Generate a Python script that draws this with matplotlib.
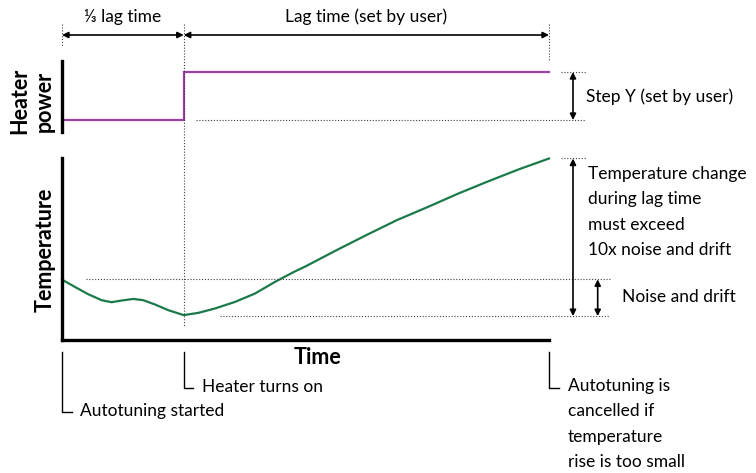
import matplotlib.pyplot as plt
from matplotlib.lines import Line2D
from matplotlib.transforms import blended_transform_factory

plt.rcParams['font.family'] = ['Lato', 'DejaVu Sans']

# time in units of 1/3 lag time: heater turns on at 1, lag time ends at 4
heater_time = [0, 1, 1, 4]
heater_power = [0, 0, 1, 1]

temp_time = [0, 0.107, 0.216, 0.326, 0.408, 0.49, 0.586, 0.668, 0.764, 0.873,
             1.0, 1.12, 1.257, 1.421, 1.585, 1.75, 1.914, 2.0, 2.25, 2.5,
             2.75, 3.0, 3.25, 3.5, 3.75, 4.0]
temp_vals = [6.07, 5.33, 4.6, 4.0, 3.8, 3.97, 4.13, 4.0, 3.57, 3.0,
             2.5, 2.73, 3.17, 3.83, 4.67, 5.85, 6.9, 7.4, 9.0, 10.55,
             12.05, 13.35, 14.7, 15.95, 17.15, 18.25]

noise_top = 6.1
noise_bottom = 2.4
temp_end = 18.25

W, H = 756, 473
PURPLE = '#9c3fa6'
GREEN = '#1b7a4a'


def fx(x):
    return x / W


def fy(y):
    return 1 - y / H


fig = plt.figure(figsize=(W / 100, H / 100), dpi=100)
ax_h = fig.add_axes([fx(62), fy(132), 487 / W, 71 / H])
ax_t = fig.add_axes([fx(62), fy(340), 487 / W, 182 / H])

for ax in (ax_h, ax_t):
    for s in ('top', 'right', 'bottom'):
        ax.spines[s].set_visible(False)
    ax.spines['left'].set_linewidth(2.4)
    ax.set_xticks([])
    ax.set_yticks([])
    ax.set_xlim(0, 4)
    ax.patch.set_alpha(0)
ax_t.spines['bottom'].set_visible(True)
ax_t.spines['bottom'].set_linewidth(2.4)

ax_h.set_ylim(-0.25, 1.23)
ax_t.set_ylim(0, 18.3)

ax_h.plot(heater_time, heater_power, color=PURPLE, lw=1.6, clip_on=False,
          solid_joinstyle='miter')
ax_t.plot(temp_time, temp_vals, color=GREEN, lw=1.6, clip_on=False,
          solid_joinstyle='round')

dot = dict(color='0.25', lw=0.8, linestyle=(0, (1, 1.6)), clip_on=False)
arrow = dict(arrowstyle='<|-|>', lw=1.2, color='black', shrinkA=0, shrinkB=0,
             mutation_scale=9)

# dotted guide lines
ax_t.plot([0.197, 4.5], [noise_top, noise_top], **dot)
ax_t.plot([1.30, 4.5], [noise_bottom, noise_bottom], **dot)
ax_t.plot([4.10, 4.30], [temp_end, temp_end], **dot)
ax_h.plot([1.10, 4.30], [0, 0], **dot)
ax_h.plot([4.10, 4.30], [1, 1], **dot)

bh = blended_transform_factory(ax_h.transData, fig.transFigure)
fig.add_artist(Line2D([0, 0], [fy(24), fy(47)], transform=bh, **dot))
fig.add_artist(Line2D([1, 1], [fy(24), fy(327)], transform=bh, **dot))
fig.add_artist(Line2D([4, 4], [fy(24), fy(60)], transform=bh, **dot))

# top arrows
ax_h.annotate('', xy=(0, fy(35)), xytext=(1, fy(35)), xycoords=bh, textcoords=bh,
              arrowprops=arrow)
ax_h.annotate('', xy=(1, fy(35)), xytext=(4, fy(35)), xycoords=bh, textcoords=bh,
              arrowprops=arrow)
fs = 12.5
ls = 1.72
fig.text(fx(123), fy(17), '\u2153 lag time', ha='center', va='center', fontsize=fs)
fig.text(fx(366), fy(17), 'Lag time (set by user)', ha='center', va='center', fontsize=fs)

# right side arrows
ax_h.annotate('', xy=(4.197, 0), xytext=(4.197, 1), arrowprops=arrow,
              annotation_clip=False)
ax_t.annotate('', xy=(4.197, noise_bottom), xytext=(4.197, temp_end),
              arrowprops=arrow, annotation_clip=False)
ax_t.annotate('', xy=(4.40, noise_bottom), xytext=(4.40, noise_top),
              arrowprops=arrow, annotation_clip=False)

fig.text(fx(586), fy(97), 'Step Y (set by user)', va='center', fontsize=fs)
fig.text(fx(588), fy(212), 'Temperature change\nduring lag time\nmust exceed\n10x noise and drift',
         va='center', fontsize=fs, linespacing=ls)
fig.text(fx(622), fy(297), 'Noise and drift', va='center', fontsize=fs)

# axis labels
fig.text(fx(32), fy(101), 'Heater\npower', rotation=90, ha='center', va='center',
         fontsize=15.5, fontweight='bold', linespacing=1.25)
fig.text(fx(45), fy(250), 'Temperature', rotation=90, ha='center', va='center',
         fontsize=15.5, fontweight='bold')
fig.text(fx(318), fy(357), 'Time', ha='center', va='center', fontsize=15.5,
         fontweight='bold')

# event markers under the time axis
bt = blended_transform_factory(ax_t.transData, fig.transFigure)
line = dict(color='black', lw=1.0, transform=bt, clip_on=False)
fig.add_artist(Line2D([0, 0, 0.082], [fy(352), fy(412), fy(412)], **line))
fig.add_artist(Line2D([1, 1, 1.076], [fy(352), fy(388), fy(388)], **line))
fig.add_artist(Line2D([4, 4, 4.08], [fy(352), fy(388), fy(388)], **line))
fig.text(fx(80), fy(411), 'Autotuning started', va='center', fontsize=fs)
fig.text(fx(202), fy(387), 'Heater turns on', va='center', fontsize=fs)
fig.text(fx(568), fy(424), 'Autotuning is\ncancelled if\ntemperature\nrise is too small',
         va='center', fontsize=fs, linespacing=ls)

fig.savefig('out.png', dpi=100)
